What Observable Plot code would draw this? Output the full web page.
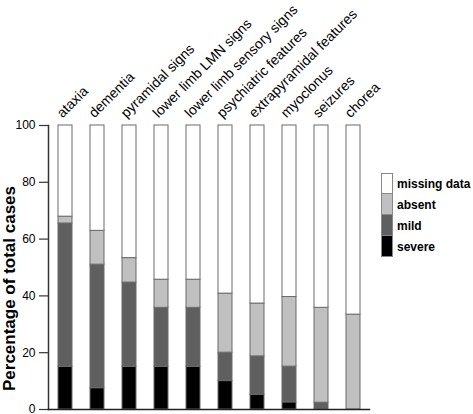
<!DOCTYPE html>
<html>
<head>
<meta charset="utf-8">
<script src="https://cdn.jsdelivr.net/npm/d3@7"></script>
<script src="https://cdn.jsdelivr.net/npm/@observablehq/plot@0.6"></script>
<style>
  body { margin: 0; background: #fff; font-family: "Liberation Sans", Arial, sans-serif; }
  #wrap { position: relative; width: 473px; height: 414px; }
  #legend { position: absolute; left: 381px; top: 173px; }
  .row { display: flex; align-items: center; height: 21px; }
  .sw { width: 12px; height: 21px; box-sizing: border-box; border: 1px solid #888; border-top-width: 0; }
  .row:first-child .sw { border-top-width: 1px; }
  .lab { margin-left: 4px; font: bold 12px "Liberation Sans", Arial, sans-serif; color: #000; }
</style>
</head>
<body>
<div id="wrap"></div>
<script>
const categories = ["ataxia", "dementia", "pyramidal signs", "lower limb LMN signs", "lower limb sensory signs", "psychiatric features", "extrapyramidal features", "myoclonus", "seizures", "chorea"];
const severe  = [15, 7.5, 15, 15, 15, 10, 5.2, 2.5, 0, 0];
const mild    = [50.5, 43.5, 29.7, 20.8, 20.8, 10, 13.5, 12.6, 2.4, 0];
const absent  = [2.4, 11.9, 8.6, 9.9, 9.9, 20.8, 18.6, 24.5, 33.4, 33.4];
const missing = [32.1, 37.1, 46.7, 54.3, 54.3, 59.2, 62.7, 60.4, 64.2, 66.6];
const levels = ["severe", "mild", "absent", "missing data"];
const levelColors = ["#000000", "#5f5f5f", "#c0c0c0", "#ffffff"];
const yTicks = [0, 20, 40, 60, 80, 100];

const series = [severe, mild, absent, missing];
const rows = [];
categories.forEach((c, i) => {
  levels.forEach((l, j) => rows.push({category: c, level: l, value: series[j][i]}));
});

const chart = Plot.plot({
  width: 473,
  height: 414,
  marginLeft: 48,
  marginRight: 104,
  marginTop: 125,
  marginBottom: 5,
  style: {fontFamily: "Liberation Sans, Arial, sans-serif", color: "#000", background: "#fff"},
  x: {type: "band", domain: categories, paddingInner: 0.5625, paddingOuter: 0.28125, insetLeft: 1, axis: null},
  y: {domain: [0, 100], axis: null},
  color: {domain: levels, range: levelColors},
  marks: [
    Plot.barY(rows, {x: "category", y: "value", fill: "level", stroke: "#6a6a6a", strokeWidth: 1}),
    Plot.axisY({ticks: yTicks, tickSize: 9, tickPadding: 4, fontSize: 12, stroke: "#333", strokeWidth: 1.2, label: null}),
    Plot.frame({anchor: "left", stroke: "#333", strokeWidth: 1.5}),
    Plot.frame({anchor: "bottom", stroke: "#222", strokeWidth: 1.5}),
    Plot.text(categories, {x: d => d, frameAnchor: "top", rotate: -45, textAnchor: "start", lineAnchor: "bottom", dx: -3, dy: -7, fontSize: 14, fill: "#000"}),
    Plot.text(["Percentage of total cases"], {frameAnchor: "left", rotate: -90, textAnchor: "middle", lineAnchor: "bottom", dx: -34, dy: 21, fontSize: 17, fontWeight: "bold", fill: "#000"})
  ]
});
document.getElementById("wrap").appendChild(chart);

const legend = document.createElement("div");
legend.id = "legend";
levels.slice().reverse().forEach(l => {
  const row = document.createElement("div");
  row.className = "row";
  const sw = document.createElement("div");
  sw.className = "sw";
  sw.style.background = levelColors[levels.indexOf(l)];
  const lab = document.createElement("span");
  lab.className = "lab";
  lab.textContent = l;
  row.appendChild(sw);
  row.appendChild(lab);
  legend.appendChild(row);
});
document.getElementById("wrap").appendChild(legend);
</script>
</body>
</html>
